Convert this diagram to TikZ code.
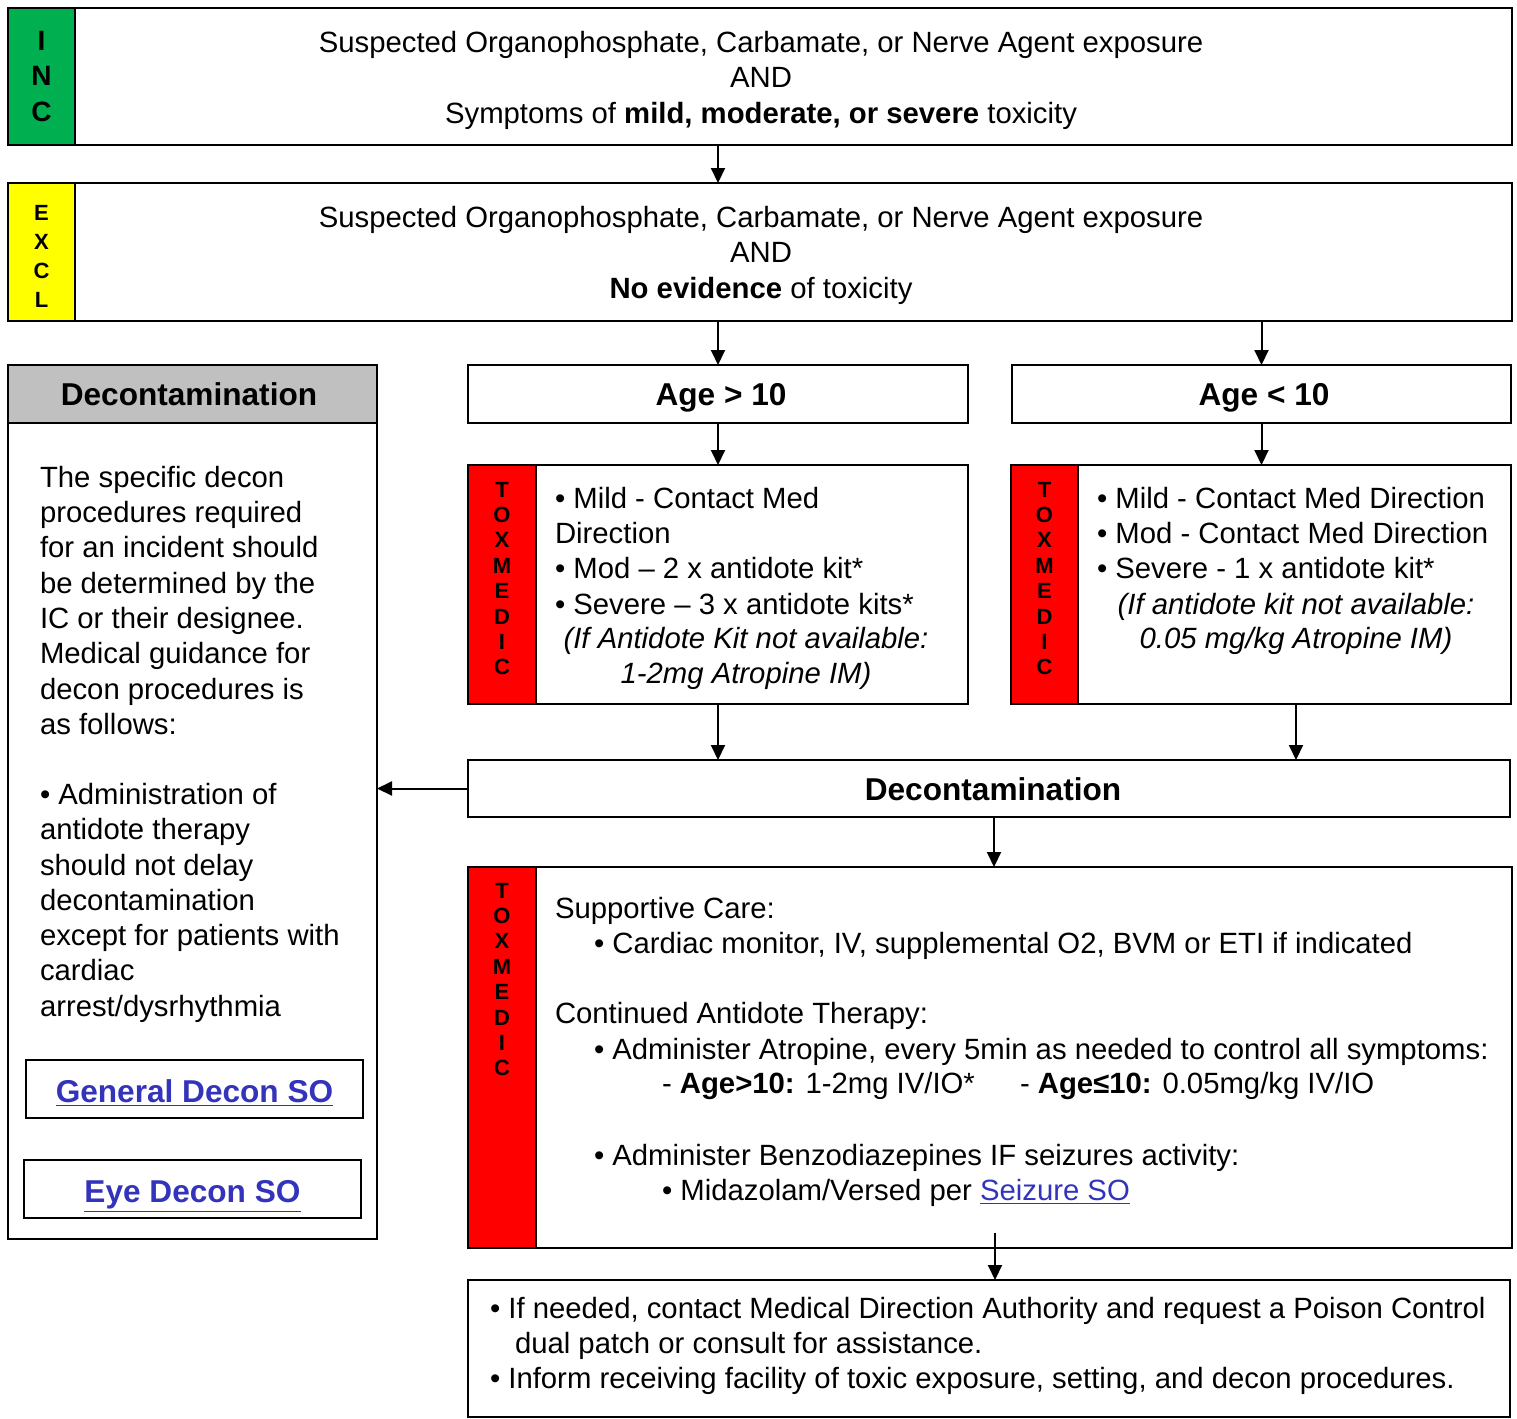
\documentclass[tikz,border=0pt]{standalone}
\usepackage{fontspec}
\setmainfont{Liberation Sans}
\usetikzlibrary{arrows.meta}
\definecolor{incgreen}{RGB}{0,176,80}
\definecolor{exyellow}{RGB}{255,255,0}
\definecolor{toxred}{RGB}{255,0,0}
\definecolor{hdrgray}{RGB}{192,192,192}
\definecolor{linkblue}{RGB}{51,51,187}
\newcommand\bodyfont{\fontsize{14.65}{17.6}\selectfont}
\newcommand\titlefont{\fontsize{15.8}{19}\selectfont\bfseries}
\newcommand\lnk[1]{\textcolor{linkblue}{\underline{#1}}}
\begin{document}
\begin{tikzpicture}[x=0.5pt, y=-0.5pt,
  panelbox/.style={draw, line width=1.3pt, inner sep=0pt, outer sep=0pt, anchor=north west},
  strip/.style={panelbox, fill=#1},
  txt/.style={inner sep=0pt, outer sep=0pt, font=\bodyfont},
  ttl/.style={inner sep=0pt, outer sep=0pt, font=\titlefont, anchor=base},
  arr/.style={line width=1pt, -{Triangle[length=7.5pt,width=7pt]}},
  letters/.style={inner sep=0pt, align=center, font=\fontsize{11}{12.7}\selectfont\bfseries}]
\useasboundingbox (0,0) rectangle (1517,1419);

% INC
\node[panelbox, minimum width=752pt, minimum height=68.5pt] (inc) at (8,8) {};
\node[strip=incgreen, minimum width=33.5pt, minimum height=68.5pt] (incs) at (8,8) {};
\node[letters, font=\fontsize{14}{17.8}\selectfont\bfseries] (incl) at (41.5,76.5) {I\\N\\C};
\node[txt, anchor=base] (inc1) at (761,52) {Suspected Organophosphate, Carbamate, or Nerve Agent exposure};
\node[txt, anchor=base] (inc2) at (761,87) {AND};
\node[txt, anchor=base] (inc3) at (761,123) {Symptoms of \textbf{mild, moderate, or severe} toxicity};

% EXCL
\node[panelbox, minimum width=752pt, minimum height=69pt] (excl) at (8,183) {};
\node[strip=exyellow, minimum width=33.5pt, minimum height=69pt] (excls) at (8,183) {};
\node[letters, font=\fontsize{11}{14.5}\selectfont\bfseries] (excll) at (41.5,256.5) {E\\X\\C\\L};
\node[txt, anchor=base] (excl1) at (761,227) {Suspected Organophosphate, Carbamate, or Nerve Agent exposure};
\node[txt, anchor=base] (excl2) at (761,262) {AND};
\node[txt, anchor=base] (excl3) at (761,298) {\textbf{No evidence} of toxicity};

% Age boxes
\node[panelbox, minimum width=250pt, minimum height=29pt] (agegt) at (468,365) {};
\node[ttl] (agegtt) at (721,405) {Age > 10};
\node[panelbox, minimum width=249.5pt, minimum height=29pt] (agelt) at (1012,365) {};
\node[ttl] (ageltt) at (1264,405) {Age < 10};

% Tox left
\node[panelbox, minimum width=250pt, minimum height=119.5pt] (toxl) at (468,465) {};
\node[strip=toxred, minimum width=34pt, minimum height=119.5pt] (toxls) at (468,465) {};
\node[letters] (toxll) at (502,578.5) {T\\O\\X\\M\\E\\D\\I\\C};
\node[txt, anchor=base west] (tl1) at (555,508) {• Mild - Contact Med};
\node[txt, anchor=base west] (tl2) at (555,543) {Direction};
\node[txt, anchor=base west] (tl3) at (555,578) {• Mod – 2 x antidote kit*};
\node[txt, anchor=base west] (tl4) at (555,614) {• Severe – 3 x antidote kits*};
\node[txt, anchor=base] (tl5) at (746,648) {\itshape (If Antidote Kit not available:};
\node[txt, anchor=base] (tl6) at (746,683) {\itshape 1-2mg Atropine IM)};

% Tox right
\node[panelbox, minimum width=250pt, minimum height=119.5pt] (toxr) at (1011,465) {};
\node[strip=toxred, minimum width=33.5pt, minimum height=119.5pt] (toxrs) at (1011,465) {};
\node[letters] (toxrl) at (1044.5,578.5) {T\\O\\X\\M\\E\\D\\I\\C};
\node[txt, anchor=base west] (tr1) at (1097,508) {• Mild - Contact Med Direction};
\node[txt, anchor=base west] (tr2) at (1097,543) {• Mod - Contact Med Direction};
\node[txt, anchor=base west] (tr3) at (1097,578) {• Severe - 1 x antidote kit*};
\node[txt, anchor=base] (tr4) at (1296,614) {\itshape (If antidote kit not available:};
\node[txt, anchor=base] (tr5) at (1296,648) {\itshape 0.05 mg/kg Atropine IM)};

% Decontamination (middle)
\node[panelbox, minimum width=521pt, minimum height=28.5pt] (decon) at (468,760) {};
\node[ttl] (decont) at (993,800) {Decontamination};

% Big tox
\node[panelbox, minimum width=522pt, minimum height=190.5pt] (toxb) at (468,867) {};
\node[strip=toxred, minimum width=34pt, minimum height=190.5pt] (toxbs) at (468,867) {};
\node[letters] (toxbl) at (502,979.5) {T\\O\\X\\M\\E\\D\\I\\C};
\node[txt, anchor=base west] (b1) at (555,918) {Supportive Care:};
\node[txt, anchor=base west] (b2) at (594,953) {• Cardiac monitor, IV, supplemental O2, BVM or ETI if indicated};
\node[txt, anchor=base west] (b3) at (555,1023) {Continued Antidote Therapy:};
\node[txt, anchor=base west] (b4) at (594,1059) {• Administer Atropine, every 5min as needed to control all symptoms:};
\node[txt, anchor=base west] (b5) at (662,1093) {- \textbf{Age>10:} 1-2mg IV/IO*};
\node[txt, anchor=base west] (b6) at (1020,1093) {- \textbf{Age≤10:} 0.05mg/kg IV/IO};
\node[txt, anchor=base west] (b7) at (594,1165) {• Administer Benzodiazepines IF seizures activity:};
\node[txt, anchor=base west] (b8) at (662,1200) {• Midazolam/Versed per \lnk{Seizure SO}};

% Final box
\node[panelbox, minimum width=521pt, minimum height=68.5pt] (final) at (468,1280) {};
\node[txt, anchor=base west] (f1) at (490,1318) {• If needed, contact Medical Direction Authority and request a Poison Control};
\node[txt, anchor=base west] (f2) at (515,1353) {dual patch or consult for assistance.};
\node[txt, anchor=base west] (f3) at (490,1388) {• Inform receiving facility of toxic exposure, setting, and decon procedures.};

% Left panel
\node[panelbox, minimum width=184.5pt, minimum height=437pt] (panel) at (8,365) {};
\node[strip=hdrgray, minimum width=184.5pt, minimum height=29pt] (panelh) at (8,365) {};
\node[ttl] (panelt) at (189,405) {Decontamination};
\node[txt, anchor=base west] (p1) at (40,487) {The specific decon};
\node[txt, anchor=base west] (p2) at (40,522) {procedures required};
\node[txt, anchor=base west] (p3) at (40,557) {for an incident should};
\node[txt, anchor=base west] (p4) at (40,593) {be determined by the};
\node[txt, anchor=base west] (p5) at (40,628) {IC or their designee.};
\node[txt, anchor=base west] (p6) at (40,663) {Medical guidance for};
\node[txt, anchor=base west] (p7) at (40,699) {decon procedures is};
\node[txt, anchor=base west] (p8) at (40,734) {as follows:};
\node[txt, anchor=base west] (p9) at (40,804) {• Administration of};
\node[txt, anchor=base west] (p10) at (40,839) {antidote therapy};
\node[txt, anchor=base west] (p11) at (40,875) {should not delay};
\node[txt, anchor=base west] (p12) at (40,910) {decontamination};
\node[txt, anchor=base west] (p13) at (40,945) {except for patients with};
\node[txt, anchor=base west] (p14) at (40,980) {cardiac};
\node[txt, anchor=base west] (p15) at (40,1016) {arrest/dysrhythmia};
\node[panelbox, minimum width=168.5pt, minimum height=29pt] (gen) at (26,1060) {};
\node[ttl] (gent) at (194.5,1102) {\lnk{General Decon SO}};
\node[panelbox, minimum width=168.5pt, minimum height=29pt] (eye) at (24,1160) {};
\node[ttl] (eyet) at (192.5,1202) {\lnk{Eye Decon SO}};

% Connectors
\draw[arr] (inc.south -| agegt.north) -- (excl.north -| agegt.north);
\draw[arr] (excl.south -| agegt.north) -- (agegt.north);
\draw[arr] (excl.south -| agelt.north) -- (agelt.north);
\draw[arr] (agegt.south) -- (toxl.north);
\draw[arr] (agelt.south) -- (agelt.south |- toxr.north);
\draw[arr] (toxl.south) -- (toxl.south |- decon.north);
\coordinate (rx) at (1296,730);
\draw[arr] (toxr.south -| rx) -- (decon.north -| rx);
\draw[arr] (decon.west) -- (decon.west -| panel.east);
\coordinate (dx) at (994,840);
\draw[arr] (decon.south -| dx) -- (toxb.north -| dx);
\coordinate (bx) at (995,1233);
\draw[arr] (bx) -- (bx |- final.north);
\end{tikzpicture}
\end{document}
